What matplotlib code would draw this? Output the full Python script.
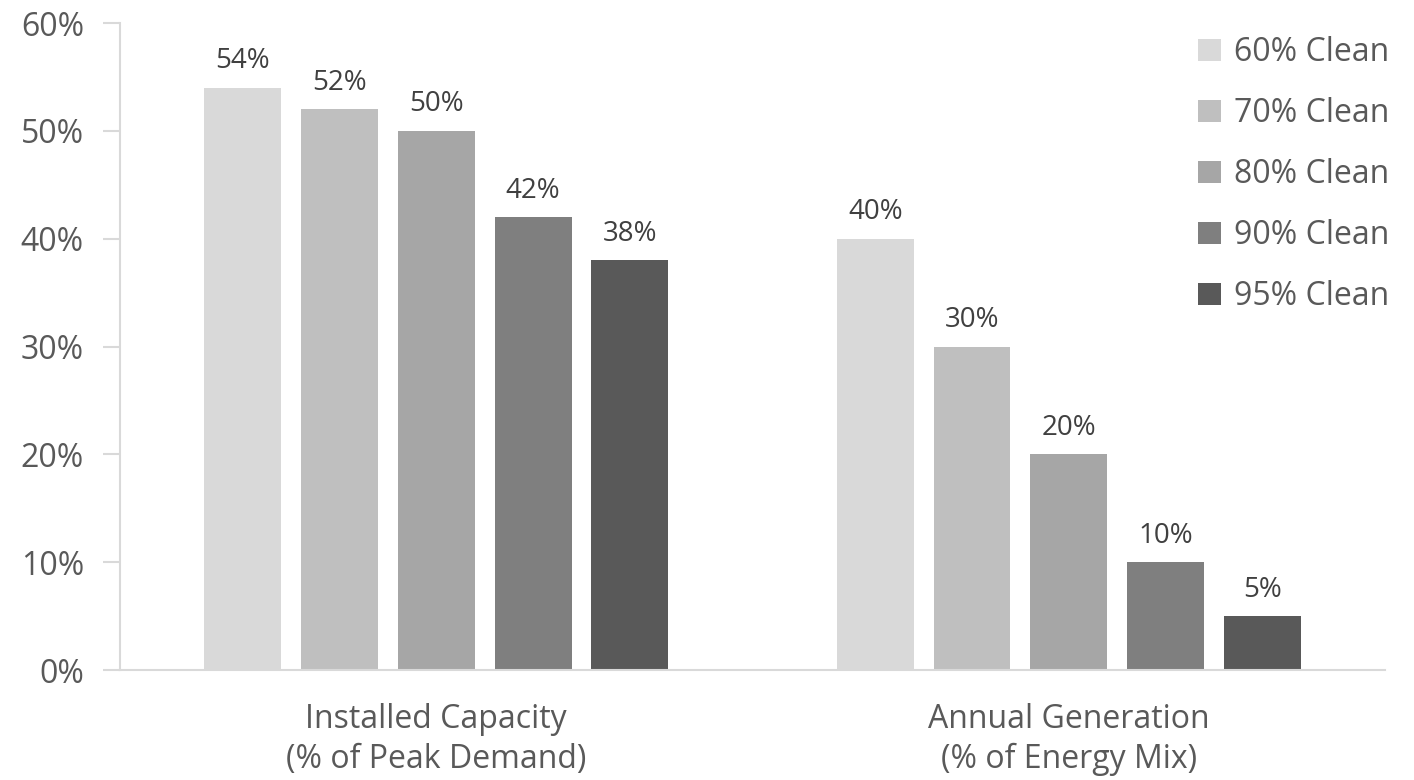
import matplotlib.pyplot as plt
import numpy as np

plt.rcParams['font.family'] = ['Open Sans', 'DejaVu Sans']

# categories and scenario values (share, %)
categories = ["Installed Capacity\n(% of Peak Demand)", "Annual Generation\n(% of Energy Mix)"]
scenarios = ["60% Clean", "70% Clean", "80% Clean", "90% Clean", "95% Clean"]
installed = [54, 52, 50, 42, 38]
generation = [40, 30, 20, 10, 5]
colors = ["#D9D9D9", "#BFBFBF", "#A6A6A6", "#7F7F7F", "#595959"]

fig = plt.figure(figsize=(14.14, 7.8), dpi=100)
ax = fig.add_axes([0.0849, 0.141, 0.8946, 0.8295])

x = np.arange(len(categories))
width = 0.1217
step = 0.153
for i, name in enumerate(scenarios):
    vals = [installed[i], generation[i]]
    bars = ax.bar(x + (i - 2) * step, vals, width, color=colors[i], label=name, zorder=2)
    ax.bar_label(bars, labels=[f"{v}%" for v in vals], padding=9,
                 fontsize=20, color="#404040")

ax.set_xlim(-0.5, 1.5)
ax.set_ylim(0, 60)
ax.set_yticks(range(0, 61, 10))
ax.set_yticklabels([f"{t}%" for t in range(0, 61, 10)])
ax.set_xticks(x)
ax.set_xticklabels(categories, linespacing=1.25)

for s in ["top", "right"]:
    ax.spines[s].set_visible(False)
for s in ["left", "bottom"]:
    ax.spines[s].set_color("#D9D9D9")
    ax.spines[s].set_linewidth(1.5)
ax.tick_params(axis="y", length=12, width=1.5, color="#D9D9D9", labelsize=23,
               labelcolor="#595959", pad=14)
ax.tick_params(axis="x", length=0, labelsize=23, labelcolor="#595959", pad=24)

ax.legend(loc="upper right", bbox_to_anchor=(1389 / 1414, 1 - 36 / 780),
          bbox_transform=fig.transFigure, frameon=False,
          fontsize=23, labelcolor="#595959", handlelength=0.7, handleheight=0.7,
          handletextpad=0.4, labelspacing=0.88, borderaxespad=0, borderpad=0)

fig.savefig("out.png", dpi=100)
